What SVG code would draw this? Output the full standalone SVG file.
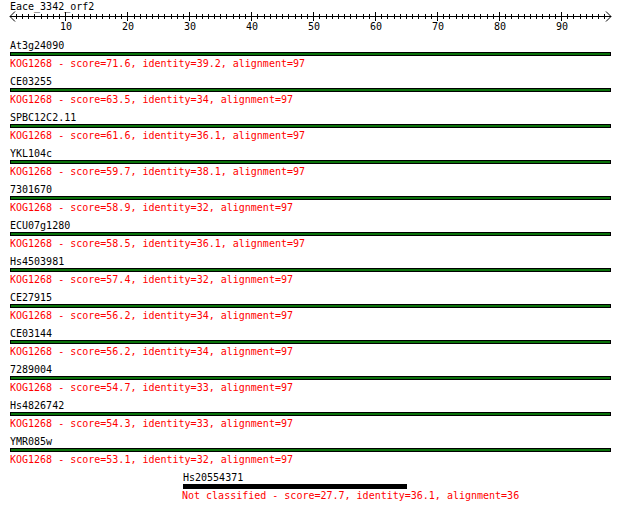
<svg xmlns="http://www.w3.org/2000/svg" width="620" height="509" viewBox="0 0 620 509">
<style>
text{font-family:"DejaVu Sans Mono","Liberation Mono",monospace;font-size:10px}
.lab{fill:#000}
.hit{fill:#ff0000}
.num{fill:#000;text-anchor:middle}
.bar{fill:#0b720b;stroke:#000;stroke-width:1}
.ax{stroke:#000;stroke-width:1;fill:none}
</style>
<rect width="620" height="509" fill="#fff"/>
<g id="ruler" shape-rendering="crispEdges">
<text class="lab" x="10" y="10">Eace_3342_orf2</text>
<path class="ax" d="M10 16.5H611"/>
<path class="ax" shape-rendering="auto" d="M15 11.5L10 16.5L15 21.5M606 11.5L611 16.5L606 21.5"/>
<path class="ax" d="M16.5 14V19M22.5 14V19M28.5 14V19M34.5 14V19M41.5 14V19M47.5 14V19M53.5 14V19M59.5 14V19M72.5 14V19M78.5 14V19M84.5 14V19M90.5 14V19M96.5 14V19M102.5 14V19M109.5 14V19M115.5 14V19M121.5 14V19M134.5 14V19M140.5 14V19M146.5 14V19M152.5 14V19M158.5 14V19M164.5 14V19M171.5 14V19M177.5 14V19M183.5 14V19M196.5 14V19M202.5 14V19M208.5 14V19M214.5 14V19M220.5 14V19M226.5 14V19M233.5 14V19M239.5 14V19M245.5 14V19M257.5 14V19M264.5 14V19M270.5 14V19M276.5 14V19M282.5 14V19M288.5 14V19M295.5 14V19M301.5 14V19M307.5 14V19M319.5 14V19M326.5 14V19M332.5 14V19M338.5 14V19M344.5 14V19M350.5 14V19M356.5 14V19M363.5 14V19M369.5 14V19M381.5 14V19M387.5 14V19M394.5 14V19M400.5 14V19M406.5 14V19M412.5 14V19M418.5 14V19M425.5 14V19M431.5 14V19M443.5 14V19M449.5 14V19M456.5 14V19M462.5 14V19M468.5 14V19M474.5 14V19M480.5 14V19M487.5 14V19M493.5 14V19M505.5 14V19M511.5 14V19M518.5 14V19M524.5 14V19M530.5 14V19M536.5 14V19M542.5 14V19M549.5 14V19M555.5 14V19M567.5 14V19M573.5 14V19M580.5 14V19M586.5 14V19M592.5 14V19M598.5 14V19M604.5 14V19"/>
<path class="ax" d="M65.5 12V21M127.5 12V21M189.5 12V21M251.5 12V21M313.5 12V21M375.5 12V21M437.5 12V21M499.5 12V21M561.5 12V21"/>
<text class="num" x="66" y="30">10</text>
<text class="num" x="128" y="30">20</text>
<text class="num" x="190" y="30">30</text>
<text class="num" x="252" y="30">40</text>
<text class="num" x="314" y="30">50</text>
<text class="num" x="376" y="30">60</text>
<text class="num" x="438" y="30">70</text>
<text class="num" x="500" y="30">80</text>
<text class="num" x="562" y="30">90</text>
</g>
<g id="hit1"><text class="lab" x="10" y="49">At3g24090</text><rect class="bar" x="10.5" y="52.5" width="600" height="3"/><text class="hit" x="10" y="67">KOG1268 - score=71.6, identity=39.2, alignment=97</text></g>
<g id="hit2"><text class="lab" x="10" y="85">CE03255</text><rect class="bar" x="10.5" y="88.5" width="600" height="3"/><text class="hit" x="10" y="103">KOG1268 - score=63.5, identity=34, alignment=97</text></g>
<g id="hit3"><text class="lab" x="10" y="121">SPBC12C2.11</text><rect class="bar" x="10.5" y="124.5" width="600" height="3"/><text class="hit" x="10" y="139">KOG1268 - score=61.6, identity=36.1, alignment=97</text></g>
<g id="hit4"><text class="lab" x="10" y="157">YKL104c</text><rect class="bar" x="10.5" y="160.5" width="600" height="3"/><text class="hit" x="10" y="175">KOG1268 - score=59.7, identity=38.1, alignment=97</text></g>
<g id="hit5"><text class="lab" x="10" y="193">7301670</text><rect class="bar" x="10.5" y="196.5" width="600" height="3"/><text class="hit" x="10" y="211">KOG1268 - score=58.9, identity=32, alignment=97</text></g>
<g id="hit6"><text class="lab" x="10" y="229">ECU07g1280</text><rect class="bar" x="10.5" y="232.5" width="600" height="3"/><text class="hit" x="10" y="247">KOG1268 - score=58.5, identity=36.1, alignment=97</text></g>
<g id="hit7"><text class="lab" x="10" y="265">Hs4503981</text><rect class="bar" x="10.5" y="268.5" width="600" height="3"/><text class="hit" x="10" y="283">KOG1268 - score=57.4, identity=32, alignment=97</text></g>
<g id="hit8"><text class="lab" x="10" y="301">CE27915</text><rect class="bar" x="10.5" y="304.5" width="600" height="3"/><text class="hit" x="10" y="319">KOG1268 - score=56.2, identity=34, alignment=97</text></g>
<g id="hit9"><text class="lab" x="10" y="337">CE03144</text><rect class="bar" x="10.5" y="340.5" width="600" height="3"/><text class="hit" x="10" y="355">KOG1268 - score=56.2, identity=34, alignment=97</text></g>
<g id="hit10"><text class="lab" x="10" y="373">7289004</text><rect class="bar" x="10.5" y="376.5" width="600" height="3"/><text class="hit" x="10" y="391">KOG1268 - score=54.7, identity=33, alignment=97</text></g>
<g id="hit11"><text class="lab" x="10" y="409">Hs4826742</text><rect class="bar" x="10.5" y="412.5" width="600" height="3"/><text class="hit" x="10" y="427">KOG1268 - score=54.3, identity=33, alignment=97</text></g>
<g id="hit12"><text class="lab" x="10" y="445">YMR085w</text><rect class="bar" x="10.5" y="448.5" width="600" height="3"/><text class="hit" x="10" y="463">KOG1268 - score=53.1, identity=32, alignment=97</text></g>
<g id="hit13"><text class="lab" x="183" y="481">Hs20554371</text><rect x="183" y="484" width="224" height="5" fill="#000"/><text class="hit" x="182" y="499">Not classified - score=27.7, identity=36.1, alignment=36</text></g>
<g id="connectors"/>
</svg>
